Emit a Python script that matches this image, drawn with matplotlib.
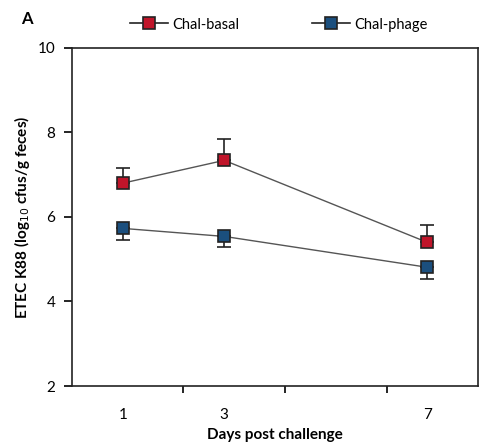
import matplotlib
matplotlib.use("Agg")
import matplotlib.pyplot as plt
from matplotlib.lines import Line2D

plt.rcParams['font.family'] = ['Lato', 'DejaVu Sans']

days = ["1", "3", "7"]
day_pos = [1, 2, 4]
basal = [6.80, 7.34, 5.40]
basal_err = [0.37, 0.51, 0.40]
phage = [5.73, 5.54, 4.81]
phage_err = [0.28, 0.26, 0.28]
yticks = [2, 4, 6, 8, 10]

red = "#C0152A"
blue = "#1B4F7E"

fig = plt.figure(figsize=(4.81, 4.46), dpi=100)
ax = fig.add_axes([0.1497, 0.1345, 0.844, 0.758])

ax.plot(day_pos, basal, color="#555555", lw=1.0, zorder=2)
ax.plot(day_pos, phage, color="#555555", lw=1.0, zorder=2)
ax.errorbar(day_pos, basal, yerr=[[0]*3, basal_err], fmt='none', ecolor="#222222",
            elinewidth=1.2, capsize=5, capthick=1.2, zorder=3)
ax.errorbar(day_pos, phage, yerr=[phage_err, [0]*3], fmt='none', ecolor="#222222",
            elinewidth=1.2, capsize=5, capthick=1.2, zorder=3)
ax.plot(day_pos, basal, 's', ms=9, mfc=red, mec="#222222", mew=1.2, zorder=4)
ax.plot(day_pos, phage, 's', ms=9, mfc=blue, mec="#222222", mew=1.2, zorder=4)

ax.set_xlim(0.5, 4.5)
ax.set_ylim(2, 10)
ax.set_yticks(yticks)
ax.set_yticklabels([str(v) for v in yticks], fontsize=11)
ax.set_xticks(day_pos)
ax.set_xticklabels(days, fontsize=11)
ax.tick_params(axis='x', length=0, pad=16)
ax.set_xticks([1.594, 2.599, 3.603], minor=True)
ax.tick_params(axis='x', which='minor', direction='out', length=5, width=1.2)
ax.tick_params(axis='y', direction='out', length=6, width=1.2, pad=6)
for s in ax.spines.values():
    s.set_linewidth(1.2)
    s.set_color("#222222")

ax.set_xlabel("Days post challenge", fontsize=11, fontweight='bold', labelpad=4)
ax.set_ylabel("ETEC K88 (log$_{10}$ cfus/g feces)", fontsize=11, fontweight='bold', labelpad=4)

fig.text(0.044, 0.957, "A", fontsize=12, fontweight='bold', va='center')

handles = [
    Line2D([0], [0], color="#222222", lw=1.2, marker='s', ms=9, mfc=red, mec="#222222", mew=1.2),
    Line2D([0], [0], color="#222222", lw=1.2, marker='s', ms=9, mfc=blue, mec="#222222", mew=1.2),
]
fig.legend(handles, ["Chal-basal", "Chal-phage"], loc='center', bbox_to_anchor=(0.58, 0.945),
           ncol=2, frameon=False, fontsize=10.5, handlelength=2.6, handletextpad=0.3,
           columnspacing=5.0)

fig.savefig("out.png", dpi=100)
